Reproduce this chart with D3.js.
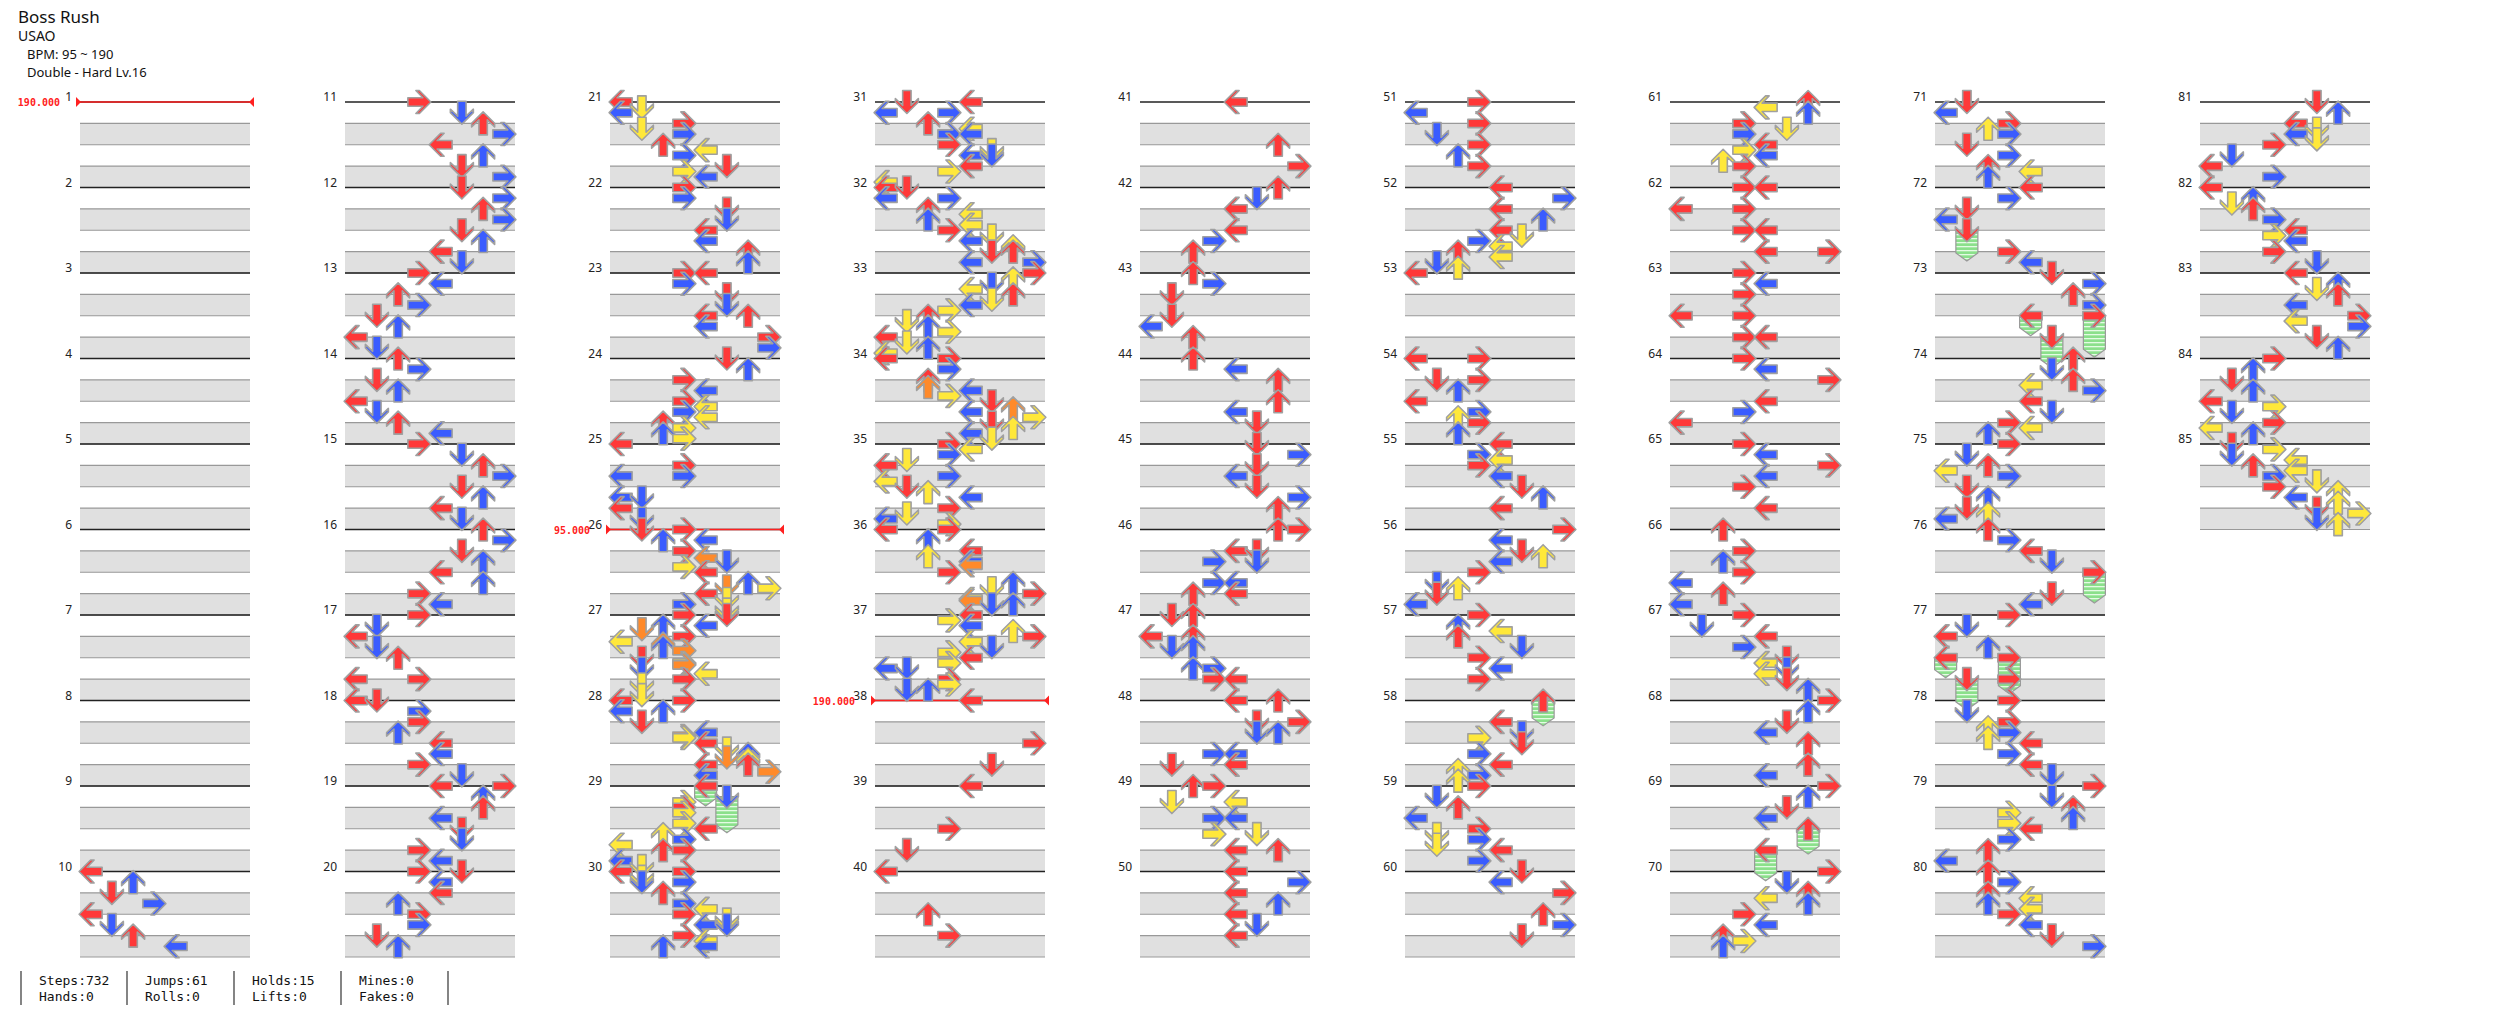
<!DOCTYPE html>
<html>
<head>
<meta charset="utf-8">
<script src="https://cdn.jsdelivr.net/npm/d3@7"></script>
<style>
  body { margin: 0; background: #fff; }
  text { font-family: "Noto Sans", "DejaVu Sans", sans-serif; }
  .mono { font-family: "DejaVu Sans Mono", "Liberation Mono", monospace; }
</style>
</head>
<body>
<svg id="chart" width="2516" height="1024"></svg>
<script>
// song info
var headerLines = ["Boss Rush", "USAO", "BPM: 95 ~ 190", "Double - Hard  Lv.16"];
var statsLabels = [["Steps:732", "Hands:0"], ["Jumps:61", "Rolls:0"], ["Holds:15", "Lifts:0"], ["Mines:0", "Fakes:0"]];
var totalMeasures = 85;

// bpm changes: [measure, label]
var bpmChanges = [[1, "190.000"], [26, "95.000"], [38, "190.000"]];

// notes per measure: "pos:lanes" with pos in 16ths (or tN in 12ths), lanes 0-7 = L D U R L D U R
var noteRows = [
  [10, "0:0 2:2 4:1 6:3 8:0 10:1 12:2 14:4"],
  [11, "0:3 2:5 4:6 6:7 8:4 10:6 12:5 14:7"],
  [12, "0:5 2:7 4:6 6:7 8:5 10:6 12:4 14:5"],
  [13, "0:3 2:4 4:2 6:3 8:1 10:2 12:0 14:1"],
  [14, "0:2 2:3 4:1 6:2 8:0 10:1 12:2 14:4"],
  [15, "0:3 2:5 4:6 6:7 8:5 10:6 12:4 14:5"],
  [16, "0:6 2:7 4:5 6:6 8:4 10:6 12:3 14:4"],
  [17, "0:3 2:1 4:0 6:1 8:2 12:03"],
  [18, "0:01 2:3 4:3 6:2 8:4 10:4 12:3 14:5"],
  [19, "0:47 2:6 4:6 6:4 8:5 10:5 12:3 14:4"],
  [20, "0:35 2:4 4:4 6:2 8:3 10:3 12:1 14:2"],
  [21, "0:0 1:1 2:0 4:3 5:1 6:3 8:2 9:4 10:3 12:5 13:3 14:4"],
  [22, "0:3 2:3 4:5 6:5 8:4 10:4 12:6 14:6"],
  [23, "0:34 2:3 4:5 6:5 8:46 10:4 12:7 14:7"],
  [24, "0:5 2:6 4:3 6:4 8:3 9:4 10:3 11:4 12:2 13:3 14:2 15:3"],
  [25, "0:0 4:3 6:03 10:01 12:0 14:1"],
  [26, "0:13 2:24 4:3 t4:4 6:5 7:3 8:4 t8:5 10:6 11:7 12:4 13:5 14:3 15:5"],
  [27, "0:35 2:24 4:3 5:0 t2:1 6:2 8:1 t4:2 9:3 10:1 t5:3 11:4 12:3 t7:3 13:1 15:1"],
  [28, "0:03 2:02 4:1 t5:3 6:4 7:3 8:4 t8:5 t9:6 9:5 10:6 t10:7 11:6 12:4 14:4"],
  [29, "0:4 2:5 3:3 4:3 5:3 7:3 8:4 9:2 10:3 11:0 t9:2 12:3 14:0 15:1"],
  [30, "0:03 1:1 2:13 4:2 6:3 7:4 8:3 9:5 10:45 12:3 13:4 14:24"],
  [31, "0:14 2:03 4:2 5:4 6:34 8:3 9:5 10:45 12:4 13:3 15:0"],
  [32, "0:01 2:03 4:2 5:4 6:2 7:4 8:3 9:5 10:4 11:6 12:56 14:47"],
  [33, "0:7 1:6 2:5 3:4 4:6 5:5 6:4 7:3 8:2 9:1 10:2 11:3 12:0 13:1 14:2 15:0"],
  [34, "0:03 2:3 4:2 t4:2 6:4 7:3 8:5 t7:6 10:4 11:7 12:5 13:6 14:4 15:5"],
  [35, "0:3 1:4 2:3 3:1 4:0 6:3 7:0 8:1 9:2 10:4 12:3 13:1 14:0 15:3"],
  [36, "0:03 2:2 4:4 t5:4 5:2 6:4 8:3 t10:4 10:6 11:5 12:7 13:4 14:56"],
  [37, "0:4 1:3 2:4 3:6 4:7 5:4 6:5 7:3 8:4 9:3 10:01 12:3 13:3 14:12"],
  [38, "0:4 8:7 12:5"],
  [39, "0:4 8:3 12:1"],
  [40, "0:0 8:2 12:3"],
  [41, "0:4 8:6 12:7"],
  [42, "0:6 2:5 4:4 8:4 10:3 12:2"],
  [43, "0:2 2:3 4:1 8:1 10:0 12:2"],
  [44, "0:2 2:4 4:6 8:6 10:4 12:5"],
  [45, "0:5 2:7 4:5 6:4 8:5 10:7 12:6"],
  [46, "0:67 4:45 6:35 10:34 12:24"],
  [47, "0:12 4:02 6:12 10:23 12:34"],
  [48, "0:46 4:57 6:56 10:34 12:14"],
  [49, "0:23 3:14 6:34 9:35 12:46"],
  [50, "0:4 2:7 4:4 6:6 8:4 10:5 12:4"],
  [51, "0:3 2:0 4:3 6:1 8:3 10:2 12:3"],
  [52, "0:4 2:7 4:4 6:6 8:4 9:5 10:3 11:4 12:2 13:4 14:1 15:2"],
  [53, "0:0"],
  [54, "0:03 4:13 6:2 8:0 10:3 11:2 12:3 14:2"],
  [55, "0:4 2:3 3:4 4:3 6:4 8:5 10:6 12:4"],
  [56, "0:7 2:4 4:5 5:6 6:4 8:3 10:1 11:2 12:1 14:0"],
  [57, "0:3 2:2 3:4 4:2 6:5 8:3 10:4 12:3"],
  [58, "0:6 4:4 6:5 7:3 8:5 10:3 12:4 13:2 14:3 15:2"],
  [59, "0:3 2:1 4:2 6:0 8:3 9:1 10:3 11:1 12:4 14:3"],
  [60, "0:5 2:4 4:7 8:6 10:7 12:5"],
  [61, "0:6 1:4 2:6 4:3 5:5 6:3 8:4 9:3 10:4 11:2 12:3"],
  [62, "0:34 4:03 8:34 12:47"],
  [63, "0:3 2:4 4:3 8:03 12:34"],
  [64, "0:3 2:4 4:7 8:4 10:3 12:0"],
  [65, "0:3 2:4 4:7 6:4 8:3 12:4"],
  [66, "0:2 4:3 6:2 8:3 10:0 12:2 14:0"],
  [67, "0:3 2:1 4:4 6:3 8:5 9:4 10:5 11:4 12:5 14:6"],
  [68, "0:7 2:6 4:5 6:4 8:6 12:6 14:4"],
  [69, "0:7 2:6 4:5 6:4 8:6 12:4"],
  [70, "0:7 2:5 4:6 5:4 6:6 8:3 10:4 12:2 13:3 14:2"],
  [71, "0:1 2:0 4:3 5:2 6:3 8:1 10:3 12:2 13:4 14:2"],
  [72, "0:4 2:3 4:1 6:0 8:1 12:3 14:4"],
  [73, "0:5 2:7 4:6 6:7 8:47 12:5"],
  [74, "0:6 2:5 4:6 5:4 6:7 8:4 10:5 12:3 13:4 14:2"],
  [75, "0:3 2:1 4:2 5:0 6:3 8:1 10:2 12:1 13:2 14:0"],
  [76, "0:2 2:3 4:4 6:5 8:7 12:5 14:4"],
  [77, "0:3 2:1 4:0 6:2 8:03 12:13"],
  [78, "0:3 2:1 4:3 5:2 6:3 7:2 8:4 10:3 12:4 14:5"],
  [79, "0:7 2:5 4:6 5:3 6:6 7:3 8:4 10:3 12:2 14:0"],
  [80, "0:2 2:3 4:2 5:4 6:2 7:4 8:3 10:4 12:5 14:7"],
  [81, "0:5 2:6 4:4 5:5 6:4 7:5 8:3 10:1 12:0 14:3"],
  [82, "0:0 2:2 3:1 4:2 6:3 8:4 9:3 10:4 12:3 14:5"],
  [83, "0:4 2:6 3:5 4:6 6:4 8:7 9:4 10:7 12:5 14:6"],
  [84, "0:3 2:2 4:1 6:2 8:0 9:3 10:1 12:3 13:0 14:2"],
  [85, "0:1 1:3 2:1 3:4 4:2 5:4 6:3 7:5 8:3 9:6 10:4 11:6 12:5 13:7 14:5 15:6"]
];

// holds: [start measure, start 16th, end measure, end 16th, lane]
var holds = [
  [29, 0, 29, 3, 4], [29, 2, 29, 8, 5],
  [58, 0, 58, 4, 6],
  [69, 8, 69, 12, 6], [69, 12, 70, 1, 4],
  [72, 8, 72, 13, 1],
  [73, 8, 73, 11, 4], [73, 8, 73, 15, 7], [73, 12, 74, 1, 5],
  [76, 8, 76, 13, 7],
  [77, 8, 77, 11, 0], [77, 8, 77, 14, 3], [77, 12, 78, 1, 1]
];

var svg = d3.select("#chart");
var perCol = 10, laneCount = 8;
var colX = d3.scaleLinear().domain([0, 1]).range([80, 345]);
var laneX = d3.scaleLinear().domain([0, laneCount]).range([0, 170]);
var rowY = d3.scaleLinear().domain([0, perCol]).range([102, 102 + 855]);
var dirRot = [-90, 180, 0, 90, -90, 180, 0, 90];
var quantColor = { q4: "#ff3838", q8: "#3a5cff", q16: "#ffe83a", q12: "#ff8a2a" };

function mx(m) { return colX(Math.floor((m - 1) / perCol)); }
function my(m, frac) { return rowY(((m - 1) % perCol) + frac); }

// hold stripe pattern
var defs = svg.append("defs");
var pat = defs.append("pattern").attr("id", "holdStripe")
  .attr("width", 4).attr("height", 4).attr("patternUnits", "userSpaceOnUse");
pat.append("rect").attr("width", 4).attr("height", 4).attr("fill", "#8be08b");
pat.append("rect").attr("y", 2).attr("width", 4).attr("height", 1.3).attr("fill", "#e4fbe4");

// header
var head = svg.append("g").attr("fill", "#111");
head.append("text").attr("x", 18).attr("y", 23).attr("font-size", 17).text(headerLines[0]);
head.append("text").attr("x", 18).attr("y", 41).attr("font-size", 14).text(headerLines[1]);
head.append("text").attr("x", 27).attr("y", 59).attr("font-size", 13).text(headerLines[2]);
head.append("text").attr("x", 27).attr("y", 77).attr("font-size", 13).text(headerLines[3]);

// grid
var grid = svg.append("g");
d3.range(1, totalMeasures + 1).forEach(function(m) {
  var x0 = mx(m), y0 = my(m, 0), w = laneX(laneCount);
  [0.25, 0.75].forEach(function(b) {
    grid.append("rect").attr("x", x0).attr("y", my(m, b)).attr("width", w)
      .attr("height", my(m, b + 0.25) - my(m, b)).attr("fill", "#e0e0e0");
    grid.append("line").attr("x1", x0).attr("x2", x0 + w).attr("y1", my(m, b)).attr("y2", my(m, b))
      .attr("stroke", "#999").attr("stroke-width", 1.2);
    grid.append("line").attr("x1", x0).attr("x2", x0 + w).attr("y1", my(m, b + 0.25)).attr("y2", my(m, b + 0.25))
      .attr("stroke", "#999").attr("stroke-width", 1.2);
  });
  grid.append("line").attr("x1", x0).attr("x2", x0 + w).attr("y1", y0).attr("y2", y0)
    .attr("stroke", "#222").attr("stroke-width", 1.5);
  grid.append("text").attr("x", x0 - 8).attr("y", y0 - 1).attr("text-anchor", "end")
    .attr("font-size", 12).attr("fill", "#222").text(m);
});

// bpm markers
var bpmG = svg.append("g");
bpmChanges.forEach(function(b) {
  var x0 = mx(b[0]), y = my(b[0], 0), x1 = x0 + laneX(laneCount);
  bpmG.append("line").attr("x1", x0 - 3).attr("x2", x1 + 3).attr("y1", y).attr("y2", y)
    .attr("stroke", "#ff2020").attr("stroke-width", 1.5);
  bpmG.append("path").attr("d", "M" + (x0 - 4) + "," + (y - 5) + "L" + (x0 + 1) + "," + y + "L" + (x0 - 4) + "," + (y + 5) + "Z").attr("fill", "#ff2020");
  bpmG.append("path").attr("d", "M" + (x1 + 4) + "," + (y - 5) + "L" + (x1 - 1) + "," + y + "L" + (x1 + 4) + "," + (y + 5) + "Z").attr("fill", "#ff2020");
  bpmG.append("text").attr("class", "mono").attr("x", x0 - 20).attr("y", y + 4).attr("text-anchor", "end")
    .attr("font-size", 10).attr("font-weight", "bold").attr("fill", "#ff2020").text(b[1]);
});

// holds
var holdG = svg.append("g");
holds.forEach(function(h) {
  var cx = mx(h[0]) + laneX(h[4] + 0.5);
  var ya = my(h[0], h[1] / 16), yb = my(h[2], h[3] / 16);
  if (Math.floor((h[2] - 1) / perCol) !== Math.floor((h[0] - 1) / perCol)) yb = ya + (h[3] + 16 - h[1]) * 855 / 160;
  var hw = 11;
  holdG.append("path")
    .attr("d", "M" + (cx - hw) + "," + ya + "L" + (cx + hw) + "," + ya + "L" + (cx + hw) + "," + (yb - 4) +
      "L" + cx + "," + (yb + 4) + "L" + (cx - hw) + "," + (yb - 4) + "Z")
    .attr("fill", "url(#holdStripe)").attr("stroke", "#999").attr("stroke-width", 1.2);
});

// notes
var notes = [];
noteRows.forEach(function(r) {
  r[1].split(" ").forEach(function(tok) {
    var parts = tok.split(":");
    var frac = parts[0][0] === "t" ? +parts[0].slice(1) / 12 : +parts[0] / 16;
    var n48 = Math.round(frac * 48);
    var q = n48 % 12 === 0 ? "q4" : n48 % 6 === 0 ? "q8" : n48 % 3 === 0 ? "q16" : "q12";
    parts[1].split("").forEach(function(l) {
      notes.push({ m: r[0], frac: frac, lane: +l, q: q });
    });
  });
});
notes.sort(function(a, b) { return (a.m + a.frac) - (b.m + b.frac); });

var arrowPts = [[0, -11.5], [11.5, 0], [11.5, 3.5], [4.2, -3.5], [4.2, 11.5], [-4.2, 11.5], [-4.2, -3.5], [-11.5, 3.5], [-11.5, 0]];
var arrowPath = "M" + arrowPts.map(function(p) { return p.join(","); }).join("L") + "Z";

svg.append("g").selectAll("path.note").data(notes).enter().append("path")
  .attr("class", "note")
  .attr("d", arrowPath)
  .attr("transform", function(d) {
    return "translate(" + (mx(d.m) + laneX(d.lane + 0.5)) + "," + my(d.m, d.frac) + ") rotate(" + dirRot[d.lane] + ")";
  })
  .attr("fill", function(d) { return quantColor[d.q]; })
  .attr("stroke", "#a0a0a0").attr("stroke-width", 1.6).attr("stroke-linejoin", "round");

// stats footer
var foot = svg.append("g").attr("class", "mono").attr("font-size", 13).attr("fill", "#111");
var barX = [21, 127, 234, 341, 448];
barX.forEach(function(x) {
  foot.append("line").attr("x1", x).attr("x2", x).attr("y1", 971).attr("y2", 1005).attr("stroke", "#333").attr("stroke-width", 1.2);
});
statsLabels.forEach(function(s, i) {
  foot.append("text").attr("class", "mono").attr("x", barX[i] + 18).attr("y", 985).text(s[0]);
  foot.append("text").attr("class", "mono").attr("x", barX[i] + 18).attr("y", 1001).text(s[1]);
});
</script>
</body>
</html>
